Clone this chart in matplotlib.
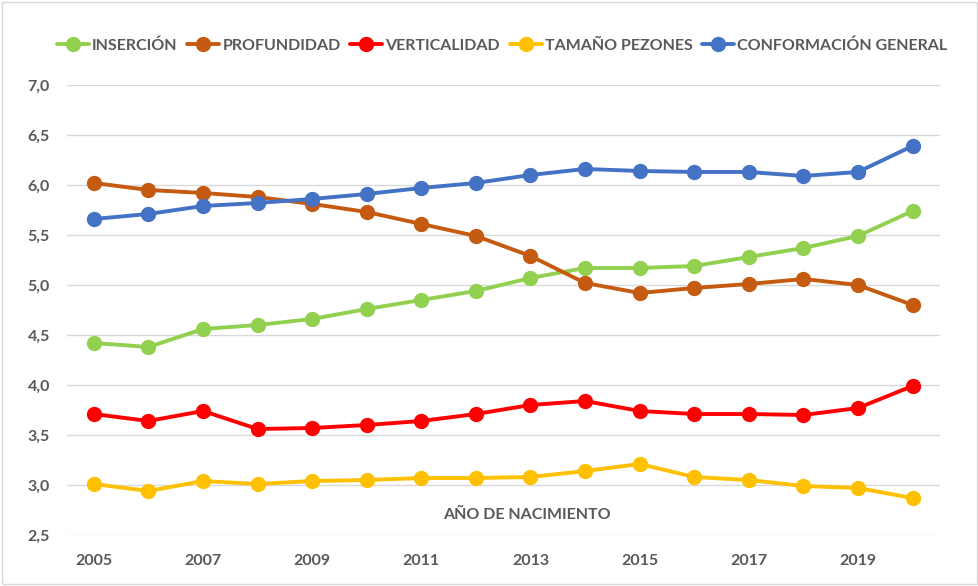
import matplotlib.pyplot as plt
from matplotlib.ticker import FuncFormatter
from matplotlib.patches import Rectangle

plt.rcParams['font.family'] = ['Lato', 'DejaVu Sans']

# data
years = list(range(2005, 2021))
insercion = [4.42, 4.38, 4.56, 4.60, 4.66, 4.76, 4.85, 4.94, 5.07, 5.17, 5.17, 5.19, 5.28, 5.37, 5.49, 5.74]
profundidad = [6.02, 5.95, 5.92, 5.88, 5.81, 5.73, 5.61, 5.49, 5.29, 5.02, 4.92, 4.97, 5.01, 5.06, 5.00, 4.80]
verticalidad = [3.71, 3.64, 3.74, 3.56, 3.57, 3.60, 3.64, 3.71, 3.80, 3.84, 3.74, 3.71, 3.71, 3.70, 3.77, 3.99]
tamano_pezones = [3.01, 2.94, 3.04, 3.01, 3.04, 3.05, 3.07, 3.07, 3.08, 3.14, 3.21, 3.08, 3.05, 2.99, 2.97, 2.87]
conformacion = [5.66, 5.71, 5.79, 5.82, 5.86, 5.91, 5.97, 6.02, 6.10, 6.16, 6.14, 6.13, 6.13, 6.09, 6.13, 6.39]

series = [
    ('INSERCIÓN', insercion, '#92D050'),
    ('PROFUNDIDAD', profundidad, '#C55A11'),
    ('VERTICALIDAD', verticalidad, '#FF0000'),
    ('TAMAÑO PEZONES', tamano_pezones, '#FFC000'),
    ('CONFORMACIÓN GENERAL', conformacion, '#4472C4'),
]
xticks = years[::2]
yticks = [2.5, 3.0, 3.5, 4.0, 4.5, 5.0, 5.5, 6.0, 6.5, 7.0]
grey = '#595959'

fig = plt.figure(figsize=(9.79, 5.86), dpi=100)
ax = fig.add_axes([0.068, 0.087, 0.892, 0.768])

for label, vals, color in series:
    ax.plot(years, vals, color=color, lw=2.8, marker='o', markersize=10,
            label=label, solid_capstyle='round')

ax.set_xlim(2004.5, 2020.5)
ax.set_ylim(2.5, 7.0)
ax.set_xticks(xticks)
ax.set_yticks(yticks)
ax.yaxis.set_major_formatter(FuncFormatter(lambda v, p: f'{v:.1f}'.replace('.', ',')))
ax.grid(axis='y', color='#D9D9D9', lw=1)
ax.set_axisbelow(True)
for s in ax.spines.values():
    s.set_visible(False)
ax.tick_params(length=0, labelsize=11.5, colors=grey, pad=12)
ax.tick_params(axis='x', pad=14)
for t in ax.get_xticklabels() + ax.get_yticklabels():
    t.set_fontweight('bold')

ax.text(0.527, 0.044, 'AÑO DE NACIMIENTO', transform=ax.transAxes, ha='center', va='center',
        fontsize=11.5, fontweight='bold', color=grey)

fig.legend(loc='center', bbox_to_anchor=(0.513, 0.922), ncol=5, frameon=False,
           handlelength=2.0, handletextpad=0.2, columnspacing=0.6,
           prop={'weight': 'bold', 'size': 11.5}, labelcolor=grey)

fig.patches.append(Rectangle((0.002, 0.003), 0.996, 0.994, transform=fig.transFigure,
                             fill=False, edgecolor='#D9D9D9', lw=1))

fig.savefig('out.png', dpi=100)
